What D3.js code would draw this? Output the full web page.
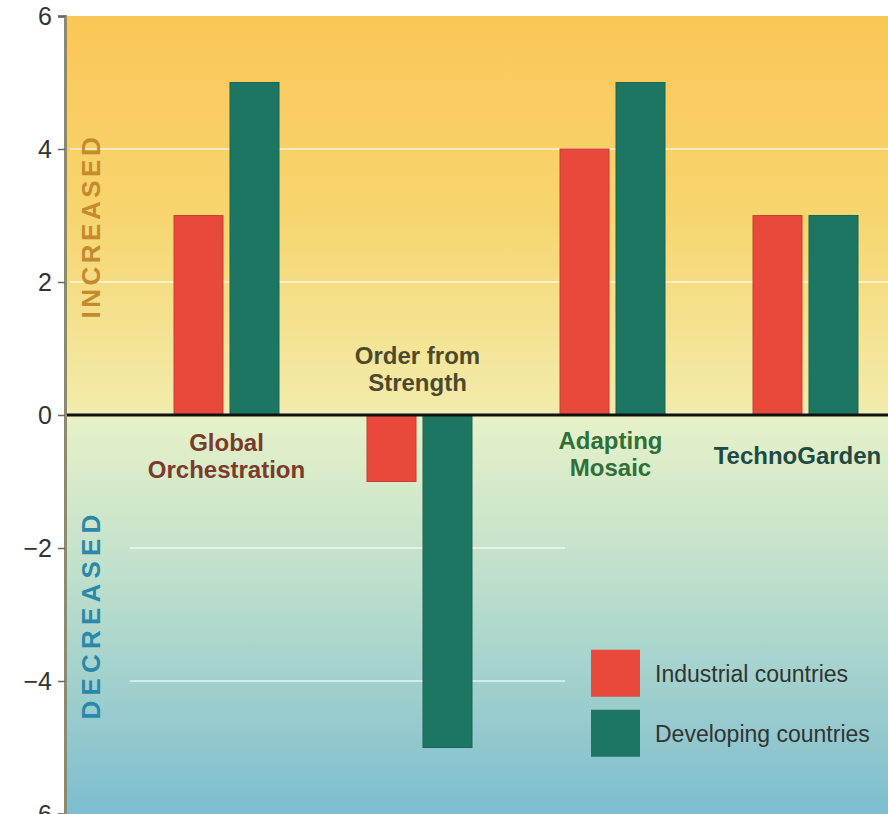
<!DOCTYPE html>
<html>
<head>
    <title>Scenario change bar chart</title>
    <script src="https://d3js.org/d3.v7.min.js"></script>
    <style>
        body { margin: 0; background: #fff; }
    </style>
</head>
<body>
    <svg width="888" height="814"></svg>
    <script>
        // Data
        const scenarios = ["Global Orchestration", "Order from Strength", "Adapting Mosaic", "TechnoGarden"];
        const seriesNames = ["Industrial countries", "Developing countries"];
        const industrial = [3, -1, 4, 3];
        const developing = [5, -5, 5, 3];
        const yTicks = [-6, -4, -2, 0, 2, 4, 6];

        const margin = {top: 16, right: 0, bottom: 0, left: 65},
              width = 888 - margin.left - margin.right,
              height = 814 - margin.top - margin.bottom;

        const font = "Liberation Sans, Arial, sans-serif";
        const svg = d3.select("svg");

        // background gradient
        const defs = svg.append("defs");
        const grad = defs.append("linearGradient")
            .attr("id", "bg").attr("x1", 0).attr("y1", 0).attr("x2", 0).attr("y2", 1);
        [["0%", "#fbc658"], ["25%", "#f7d56e"], ["49%", "#f2ebaa"], ["50.5%", "#e6f1c8"],
         ["70%", "#bfe0cc"], ["100%", "#7dbdcf"]]
            .forEach(([o, c]) => grad.append("stop").attr("offset", o).attr("stop-color", c));

        const g = svg.append("g")
            .attr("transform", `translate(${margin.left},${margin.top})`);

        const y = d3.scaleLinear().domain([-6, 6]).range([height, 0]);

        const x0 = d3.scaleBand()
            .domain(scenarios)
            .range([130 - margin.left, 130 - margin.left + 772])
            .paddingInner(0.456)
            .paddingOuter(0.228);
        const x1 = d3.scaleBand()
            .domain(seriesNames)
            .range([0, x0.bandwidth()])
            .paddingInner(0.125);
        const color = d3.scaleOrdinal().domain(seriesNames).range(["#e8493b", "#1d7661"]);

        g.append("rect")
            .attr("width", width).attr("height", height)
            .attr("fill", "url(#bg)");

        // faint gridlines
        g.selectAll(".grid")
            .data(yTicks.filter(d => d !== 0 && Math.abs(d) !== 6))
            .enter().append("line")
            .attr("x1", d => d > 0 ? 5 : 65)
            .attr("x2", d => d > 0 ? width : 500)
            .attr("y1", d => y(d)).attr("y2", d => y(d))
            .attr("stroke", "#ffffff").attr("stroke-opacity", 0.55).attr("stroke-width", 2);

        // side labels
        g.append("text")
            .attr("transform", `translate(35,${y(2.84)}) rotate(-90)`)
            .attr("text-anchor", "middle")
            .attr("font-family", font)
            .attr("font-weight", "bold").attr("font-size", 26)
            .attr("letter-spacing", 3.5)
            .attr("fill", "#c48a2c")
            .text("INCREASED");
        g.append("text")
            .attr("transform", `translate(35,${y(-3)}) rotate(-90)`)
            .attr("text-anchor", "middle")
            .attr("font-family", font)
            .attr("font-weight", "bold").attr("font-size", 26)
            .attr("letter-spacing", 5.2)
            .attr("fill", "#2a89a8")
            .text("DECREASED");

        // bars
        const rows = scenarios.map((s, i) => ({
            scenario: s,
            values: [
                {series: seriesNames[0], value: industrial[i]},
                {series: seriesNames[1], value: developing[i]}
            ]
        }));

        g.selectAll(".group")
            .data(rows)
            .enter().append("g")
            .attr("transform", d => `translate(${x0(d.scenario)},0)`)
          .selectAll("rect")
            .data(d => d.values)
            .enter().append("rect")
            .attr("x", d => x1(d.series))
            .attr("y", d => y(Math.max(0, d.value)))
            .attr("width", x1.bandwidth())
            .attr("height", d => Math.abs(y(d.value) - y(0)))
            .attr("fill", d => color(d.series))
            .attr("stroke", d => d3.color(color(d.series)).darker(0.4))
            .attr("stroke-width", 1);

        // zero line
        g.append("line")
            .attr("x1", 0).attr("x2", width)
            .attr("y1", y(0)).attr("y2", y(0))
            .attr("stroke", "#111").attr("stroke-width", 3);

        // y axis
        const yAxis = g.append("g")
            .call(d3.axisLeft(y).tickValues(yTicks).tickSize(7).tickPadding(6)
                .tickFormat(d => d < 0 ? "\u2212" + Math.abs(d) : d));
        yAxis.select(".domain").attr("stroke", "#8c8a6e").attr("stroke-width", 3);
        yAxis.selectAll(".tick line").attr("stroke", "#666").attr("stroke-width", 1.5);
        yAxis.selectAll(".tick text")
            .attr("font-family", font)
            .attr("font-size", 25).attr("fill", "#333");

        // category labels
        const labelStyle = [
            {lines: ["Global", "Orchestration"], at: -0.54, fill: "#7a3a2c", dx: 0},
            {lines: ["Order from", "Strength"], at: 0.77, fill: "#4c4a2e", dx: -2},
            {lines: ["Adapting", "Mosaic"], at: -0.51, fill: "#2f7038", dx: -2},
            {lines: ["TechnoGarden"], at: -0.74, fill: "#1f4a44", dx: -8}
        ];
        scenarios.forEach((s, i) => {
            const st = labelStyle[i];
            const cx = x0(s) + x0.bandwidth() / 2 + st.dx;
            const t = g.append("text")
                .attr("text-anchor", "middle")
                .attr("font-family", font)
                .attr("font-weight", "bold").attr("font-size", 24)
                .attr("fill", st.fill)
                .attr("x", cx)
                .attr("y", y(st.at));
            st.lines.forEach((l, k) => t.append("tspan")
                .attr("x", cx)
                .attr("dy", k === 0 ? 0 : 27).text(l));
        });

        // legend
        const legend = g.append("g")
            .attr("transform", `translate(${591 - margin.left},${y(-3.53)})`);
        seriesNames.forEach((n, i) => {
            legend.append("rect")
                .attr("y", i * 60).attr("width", 49).attr("height", 47)
                .attr("fill", color(n));
            legend.append("text")
                .attr("x", 64).attr("y", i * 60 + 32)
                .attr("font-family", font)
                .attr("font-size", 23).attr("fill", "#333")
                .text(n);
        });
    </script>
</body>
</html>
